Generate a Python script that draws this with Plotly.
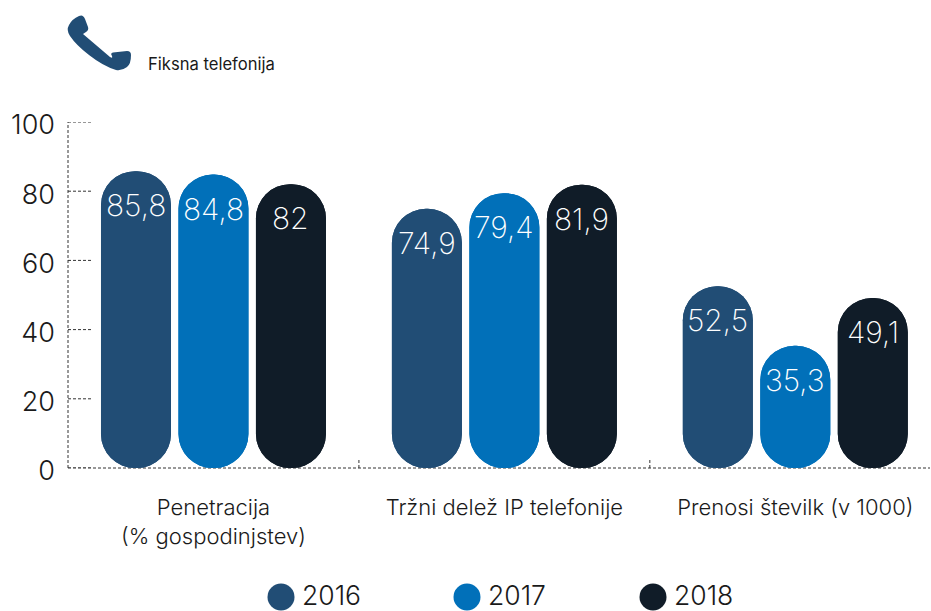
import plotly.graph_objects as go

categories = ["Penetracija<br>(% gospodinjstev)", "Tržni delež IP telefonije", "Prenosi številk (v 1000)"]
years = ["2016", "2017", "2018"]
v2016 = [85.8, 74.9, 52.5]
v2017 = [84.8, 79.4, 35.3]
v2018 = [82, 81.9, 49.1]
y_ticks = [0, 20, 40, 60, 80, 100]
title_text = "Fiksna telefonija"

series = [v2016, v2017, v2018]
colors = ["#214d75", "#0170b9", "#101c28"]
FONT = "Inter"
W, H = 931, 611
L, T, R, B = 68, 122, 1, 143
PW, PH = W - L - R, H - T - B
BAR_W = 70 / 291
STEP = 77.5 / 291
TEXT = "#1a1a1a"

fig = go.Figure()
shapes, annotations = [], []
for i, (year, vals, col) in enumerate(zip(years, series, colors)):
    off = (i - 1) * STEP - BAR_W / 2
    # upward bar rounds the top end, the reversed bar rounds the bottom end
    fig.add_trace(go.Bar(x=categories, y=vals, base=0, name=year, width=BAR_W, offset=off,
                         marker=dict(color=col, line_width=0), hoverinfo="skip"))
    fig.add_trace(go.Bar(x=categories, y=[-v for v in vals], base=vals, name=year, width=BAR_W, offset=off,
                         marker=dict(color=col, line_width=0), hoverinfo="skip"))
    for c, v in zip(range(len(categories)), vals):
        annotations.append(dict(x=c + (i - 1) * STEP, y=v, xref="x", yref="y", yshift=-34, showarrow=False,
                                text=str(v).replace(".", ","), font=dict(family=FONT, size=30, color="#ffffff", weight=200)))
    # legend
    cx = 281 + i * 186
    shapes.append(dict(type="circle", xref="paper", yref="paper", xsizemode="pixel", ysizemode="pixel",
                       xanchor=(cx - L) / PW, yanchor=(H - B - 597) / PH, x0=-13.5, x1=13.5, y0=-13.5, y1=13.5,
                       fillcolor=col, line_width=0))
    annotations.append(dict(x=(cx + 22 - L) / PW, y=(H - B - 595) / PH, xref="paper", yref="paper", xanchor="left",
                            yanchor="middle", showarrow=False, text=year,
                            font=dict(family=FONT, size=26.5, color=TEXT, weight=300), xshift=-3))

dash = dict(color="#333333", width=1, dash="3px,2px")
shapes.append(dict(type="line", xref="paper", yref="paper", x0=0, x1=0, y0=0, y1=1, line=dash, layer="below"))
shapes.append(dict(type="line", xref="paper", yref="paper", x0=0, x1=1, y0=0, y1=0, line=dash, layer="below"))
for t in y_ticks:
    shapes.append(dict(type="line", xref="paper", yref="y", x0=0, x1=23 / PW, y0=t, y1=t, line=dash, layer="below"))
for c in [0.5, 1.5]:
    shapes.append(dict(type="line", xref="x", yref="paper", x0=c, x1=c, y0=0, y1=8 / PH, line=dash, layer="below"))

# phone icon, pixel offsets from the icon anchor
def P(x, y):
    return f"{x - 68},{70 - y}"
phone = ("M" + P(79, 16) + " Q" + P(83, 14) + " " + P(85, 19) + " L" + P(88, 27) + " Q" + P(89, 30) + " " + P(86, 32)
         + " L" + P(83, 34) + " L" + P(110, 57) + " Q" + P(113, 59) + " " + P(112, 56) + " Q" + P(110, 53) + " " + P(113, 52.5)
         + " L" + P(127, 51) + " Q" + P(131, 51) + " " + P(131, 55) + " Q" + P(131, 64) + " " + P(127, 67)
         + " Q" + P(122, 71) + " " + P(116, 70) + " Q" + P(103, 66) + " " + P(89, 55)
         + " Q" + P(76, 45) + " " + P(70, 36) + " Q" + P(66, 30) + " " + P(69, 25) + " Q" + P(72, 19) + " " + P(79, 16) + " Z")
shapes.append(dict(type="path", xref="paper", yref="paper", xsizemode="pixel", ysizemode="pixel",
                   xanchor=0, yanchor=(H - B - 70) / PH, path=phone, fillcolor="#214d75", line_width=0))
annotations.append(dict(x=(148 - L) / PW, y=(H - B - 64) / PH, xref="paper", yref="paper", xanchor="left", yanchor="middle",
                        showarrow=False, xshift=-2, text=title_text, font=dict(family=FONT, size=16.6, color=TEXT)))

fig.update_layout(
    width=W, height=H, margin=dict(l=L, r=R, t=T, b=B), paper_bgcolor="white", plot_bgcolor="white",
    barmode="overlay", barcornerradius=35, showlegend=False, shapes=shapes, annotations=annotations,
    xaxis=dict(type="category", categoryorder="array", categoryarray=categories, range=[-0.5, 2.463], showgrid=False, showline=False, zeroline=False,
               ticks="", ticklabelstandoff=24, tickfont=dict(family=FONT, size=22, color=TEXT, weight=300)),
    yaxis=dict(range=[0, 100], tickvals=y_ticks, showgrid=False, showline=False, zeroline=False,
               ticks="", ticklabelstandoff=12, ticklabelshift=3, tickfont=dict(family=FONT, size=27, color=TEXT, weight=300)),
)
fig.write_html("out.html", config=dict(displayModeBar=False), post_script="document.body.style.margin='0';")
